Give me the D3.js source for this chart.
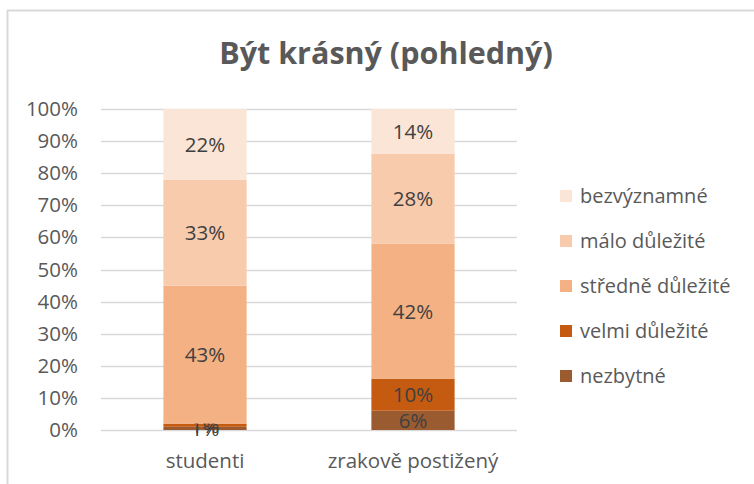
<!DOCTYPE html>
<html lang="cs">
<head>
<meta charset="UTF-8">
<title>Být krásný (pohledný)</title>
<script src="https://d3js.org/d3.v7.min.js"></script>
<style>
  body { margin: 0; background: #fff; }
  svg text { font-family: "Open Sans", "DejaVu Sans", sans-serif; fill: #595959; }
</style>
</head>
<body>
<div id="chart"></div>
<script>
// data (percent)
const categories = ["studenti", "zrakově postižený"];
const series = ["nezbytné", "velmi důležité", "středně důležité", "málo důležité", "bezvýznamné"];
const nezbytne = [1, 6];
const velmi = [1, 10];
const stredne = [43, 42];
const malo = [33, 28];
const bezvyznamne = [22, 14];
const colors = ["#9a5b30", "#c55a11", "#f4b183", "#f8cbad", "#fbe5d6"];
const yTicks = [0, 10, 20, 30, 40, 50, 60, 70, 80, 90, 100];

const W = 754, H = 484;
const margin = { top: 109, left: 101, right: 237, bottom: 54 };

const svg = d3.select("#chart").append("svg").attr("width", W).attr("height", H);

// chart border (top and left edges visible)
svg.append("line").attr("x1", 7).attr("x2", W).attr("y1", 10.5).attr("y2", 10.5)
  .attr("stroke", "#d9d9d9").attr("stroke-width", 2);
svg.append("line").attr("x1", 7.5).attr("x2", 7.5).attr("y1", 10).attr("y2", H)
  .attr("stroke", "#d9d9d9").attr("stroke-width", 2);

svg.append("text").attr("x", 386).attr("y", 64).attr("text-anchor", "middle")
  .style("font-size", "30.5px").style("font-weight", "bold").text("Být krásný (pohledný)");

const x = d3.scaleBand().domain(categories).range([margin.left, W - margin.right]).paddingInner(0.6).paddingOuter(0.3);
const y = d3.scaleLinear().domain([0, 100]).range([H - margin.bottom, margin.top]);

// gridlines
svg.append("g").selectAll("line").data(yTicks).join("line")
  .attr("x1", margin.left).attr("x2", W - margin.right)
  .attr("y1", d => Math.round(y(d)) + 0.5).attr("y2", d => Math.round(y(d)) + 0.5)
  .attr("stroke", "#d9d9d9").attr("stroke-width", 1.5);

const yAxis = svg.append("g").attr("transform", `translate(${margin.left},0)`)
  .call(d3.axisLeft(y).tickValues(yTicks).tickFormat(d => d + "%").tickSize(0).tickPadding(23));
yAxis.select(".domain").remove();
yAxis.selectAll("text").style("font-size", "20.5px").attr("fill", "#595959");

const xAxis = svg.append("g").attr("transform", `translate(0,${H - margin.bottom})`)
  .call(d3.axisBottom(x).tickSize(0).tickPadding(23));
xAxis.select(".domain").remove();
xAxis.selectAll("text").style("font-size", "20.5px").attr("fill", "#595959");

const rows = categories.map((c, i) => ({
  cat: c, "nezbytné": nezbytne[i], "velmi důležité": velmi[i], "středně důležité": stredne[i],
  "málo důležité": malo[i], "bezvýznamné": bezvyznamne[i]
}));
const stacked = d3.stack().keys(series)(rows);

const layers = svg.append("g").selectAll("g").data(stacked).join("g")
  .attr("fill", (d, i) => colors[i]);
layers.selectAll("rect").data(d => d).join("rect")
  .attr("x", d => x(d.data.cat))
  .attr("width", x.bandwidth())
  .attr("y", d => y(d[1]))
  .attr("height", d => y(d[0]) - y(d[1]));

layers.selectAll("text").data(d => d.map(v => ({ v, key: d.key }))).join("text")
  .attr("x", d => x(d.v.data.cat) + x.bandwidth() / 2)
  .attr("y", d => (y(d.v[0]) + y(d.v[1])) / 2)
  .attr("dy", "0.36em").attr("text-anchor", "middle")
  .style("font-size", "20.5px").style("fill", "#404040")
  .text(d => d.v.data[d.key] + "%");

// legend (top entry = bezvýznamné)
const legendY = [196, 241, 286, 331, 376];
const leg = svg.append("g").selectAll("g").data(series.slice().reverse()).join("g")
  .attr("transform", (d, i) => `translate(560,${legendY[i]})`);
leg.append("rect").attr("x", 0).attr("y", -6).attr("width", 12).attr("height", 12)
  .attr("fill", (d, i) => colors[series.length - 1 - i]);
leg.append("text").attr("x", 20).attr("dy", "0.36em").style("font-size", "20px").text(d => d);
</script>
</body>
</html>
